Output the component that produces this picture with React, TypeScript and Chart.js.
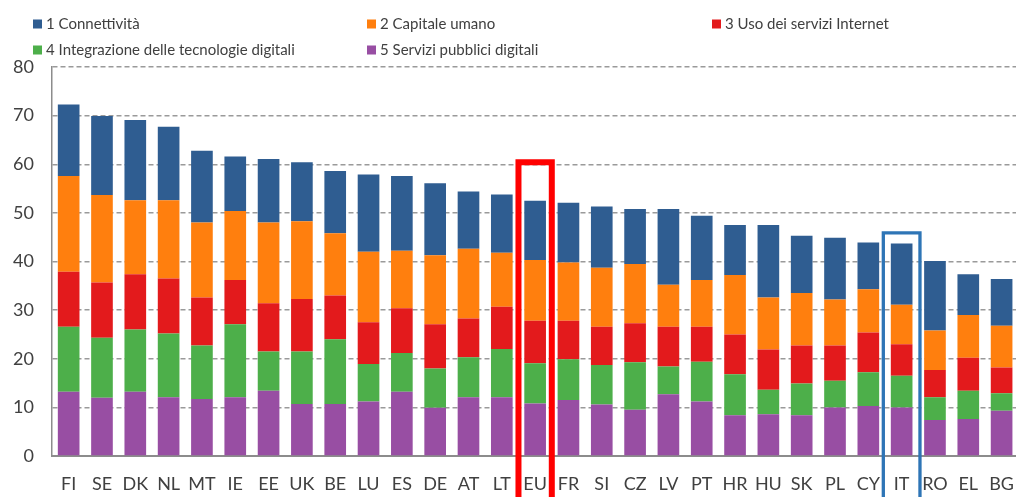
import React, { useEffect, useRef } from "react";
import { Chart, registerables } from "chart.js";

Chart.register(...registerables);

const categories = ["FI","SE","DK","NL","MT","IE","EE","UK","BE","LU","ES","DE","AT","LT","EU","FR","SI","CZ","LV","PT","HR","HU","SK","PL","CY","IT","RO","EL","BG"];

const connettivita = [14.7,16.2,16.5,15.1,14.8,11.2,13.1,12.1,12.8,15.9,15.4,14.8,11.8,12.0,12.2,12.3,12.6,11.3,15.6,13.2,10.3,14.9,11.8,12.7,9.6,12.6,14.3,8.4,9.6];
const capitaleUmano = [19.7,18.0,15.2,16.1,15.4,14.2,16.6,16.0,12.8,14.5,11.8,14.2,14.3,11.1,12.5,12.0,12.1,12.2,8.6,9.6,12.2,10.7,10.8,9.5,8.9,8.1,8.1,8.8,8.6];
const usoInternet = [11.3,11.4,11.4,11.3,9.9,9.1,9.9,10.8,9.0,8.6,9.2,9.1,8.0,8.7,8.7,7.9,7.9,8.0,8.2,7.2,8.2,8.3,7.8,7.2,8.2,6.5,5.6,6.8,5.3];
const integrazione = [13.4,12.3,12.8,13.1,11.0,15.0,8.1,10.8,13.3,7.7,8.0,8.1,8.2,9.9,8.3,8.4,8.1,9.8,5.7,8.2,8.4,5.0,6.5,5.5,6.9,6.5,4.7,5.8,3.6];
const serviziPubblici = [13.2,12.0,13.2,12.1,11.7,12.1,13.4,10.7,10.7,11.2,13.2,9.9,12.1,12.1,10.8,11.5,10.6,9.5,12.7,11.2,8.4,8.6,8.4,10.0,10.3,10.0,7.4,7.6,9.3];

const seriesLabels = [
  "1 Connettività",
  "2 Capitale umano",
  "3 Uso dei servizi Internet",
  "4 Integrazione delle tecnologie digitali",
  "5 Servizi pubblici digitali",
];
const seriesColors = ["#2F5D91", "#FF7F0E", "#E31A1C", "#4DAF4A", "#984EA3"];

const yTicks = [0, 10, 20, 30, 40, 50, 60, 70, 80];

const FONT = "Lato, 'Open Sans', sans-serif";

const legendPlugin = {
  id: "gridLegend",
  afterDraw(chart: any) {
    const ctx = chart.ctx;
    const cols = [33, 367, 712];
    const rows = [24, 50];
    ctx.save();
    ctx.font = `15px ${FONT}`;
    ctx.textBaseline = "middle";
    ctx.textAlign = "left";
    seriesLabels.forEach((lab, i) => {
      const x = cols[i % 3];
      const y = rows[Math.floor(i / 3)];
      ctx.fillStyle = seriesColors[i];
      ctx.fillRect(x, y - 4.5, 9, 9);
      ctx.fillStyle = "#404040";
      ctx.fillText(lab, x + 13, y + 0.5);
    });
    ctx.restore();
  },
};

const highlightPlugin = {
  id: "highlights",
  afterDraw(chart: any) {
    const ctx = chart.ctx;
    const xs = chart.scales.x;
    const ys = chart.scales.y;
    const cw = (xs.getPixelForValue(1) - xs.getPixelForValue(0));
    const boxes = [
      { label: "EU", color: "#FF0000", top: 60.4, half: 0.5, width: 6 },
      { label: "IT", color: "#2E75B6", top: 45.9, half: 0.55, width: 3.3 },
    ];
    ctx.save();
    boxes.forEach((b) => {
      const idx = categories.indexOf(b.label);
      const cx = xs.getPixelForValue(idx);
      const l = cx - cw * b.half;
      const r = cx + cw * b.half;
      const t = ys.getPixelForValue(b.top);
      const bottom = chart.height + 10;
      ctx.strokeStyle = b.color;
      ctx.lineWidth = b.width;
      ctx.lineJoin = "miter";
      ctx.beginPath();
      ctx.moveTo(l, bottom);
      ctx.lineTo(l, t);
      ctx.lineTo(r, t);
      ctx.lineTo(r, bottom);
      ctx.stroke();
    });
    ctx.restore();
  },
};

export default function App() {
  const ref = useRef<HTMLCanvasElement>(null);

  useEffect(() => {
    if (!ref.current) return;
    const datasets = [
      { label: seriesLabels[4], data: serviziPubblici, backgroundColor: seriesColors[4] },
      { label: seriesLabels[3], data: integrazione, backgroundColor: seriesColors[3] },
      { label: seriesLabels[2], data: usoInternet, backgroundColor: seriesColors[2] },
      { label: seriesLabels[1], data: capitaleUmano, backgroundColor: seriesColors[1] },
      { label: seriesLabels[0], data: connettivita, backgroundColor: seriesColors[0] },
    ].map((d) => ({ ...d, barPercentage: 0.65, categoryPercentage: 1, borderWidth: 0 }));

    const chart = new Chart(ref.current, {
      type: "bar",
      data: { labels: categories, datasets },
      options: {
        animation: false,
        responsive: false,
        layout: { padding: { top: 67, left: 0, right: 0, bottom: 0 } },
        plugins: {
          legend: { display: false },
          tooltip: { enabled: false },
        },
        scales: {
          x: {
            stacked: true,
            grid: { display: false, drawTicks: false },
            border: { display: true, color: "#8c8c8c", width: 2 },
            ticks: {
              color: "#404040",
              font: { family: FONT, size: 18 },
              padding: 17,
              maxRotation: 0,
              autoSkip: false,
            },
            afterFit: (s: any) => { s.height = 41; },
          },
          y: {
            stacked: true,
            min: 0,
            max: 80,
            afterBuildTicks: (s: any) => { s.ticks = yTicks.map((v) => ({ value: v })); },
            grid: { color: "#9a9a9a", lineWidth: 1.5, drawTicks: false },
            border: { display: true, color: "#8c8c8c", width: 1.5, dash: [5, 3] },
            ticks: {
              color: "#404040",
              font: { family: FONT, size: 18 },
              padding: 18,
            },
            afterFit: (s: any) => { s.width = 52; },
          },
        },
      },
      plugins: [legendPlugin, highlightPlugin],
    });
    return () => chart.destroy();
  }, []);

  return (
    <div style={{ position: "fixed", left: 0, top: 0, width: 1016, height: 497, overflow: "hidden", background: "#fff" }}>
      <canvas ref={ref} width={1031} height={497} style={{ width: 1031, height: 497, display: "block" }} />
    </div>
  );
}
